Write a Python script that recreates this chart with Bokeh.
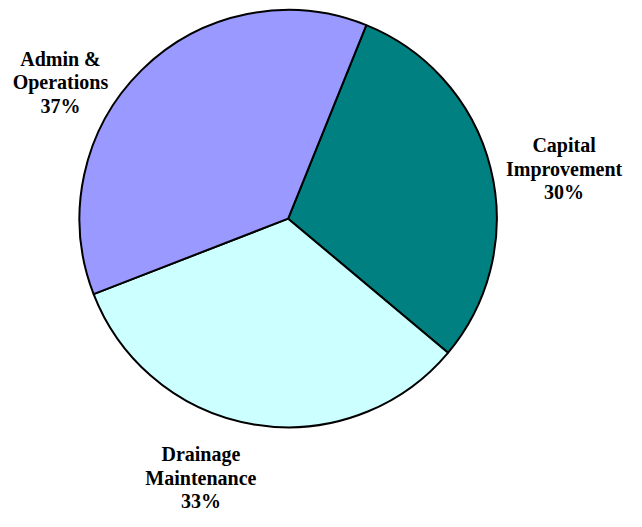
import math
from bokeh.plotting import figure
from bokeh.models import Range1d, ColumnDataSource
from bokeh.core.properties import value
from bokeh.embed import file_html
from bokeh.resources import INLINE

# Data
categories = ["Capital Improvement", "Drainage Maintenance", "Admin & Operations"]
label_lines = [["Capital", "Improvement", "30%"],
               ["Drainage", "Maintenance", "33%"],
               ["Admin &", "Operations", "37%"]]
shares = [30, 33, 37]
colors = ["#008080", "#CCFFFF", "#9999FF"]

W, H = 626, 511
# data space mirrors the reference's 642x527 frame
p = figure(width=W, height=H, output_backend="svg", toolbar_location=None,
           x_range=Range1d(0, 642), y_range=Range1d(0, 527), min_border=0)
p.axis.visible = False
p.grid.visible = False
p.outline_line_color = None
p.background_fill_color = "white"
p.border_fill_color = "white"

cx, cy, r = 295, 302, 214
start_cw = 22.0  # degrees clockwise from 12 o'clock where first slice starts
total = sum(shares)
starts, ends = [], []
acc = start_cw
for s in shares:
    a0 = acc
    a1 = acc + 360.0 * s / total
    starts.append(math.radians(90 - a0))
    ends.append(math.radians(90 - a1))
    acc = a1

src = ColumnDataSource(dict(x=[cx] * 3, y=[cy] * 3, start=starts, end=ends,
                            color=colors, name=categories))
p.wedge(x="x", y="y", radius=r, start_angle="start", end_angle="end",
        direction="clock", fill_color="color", line_color="black",
        line_width=2, source=src)

# label anchor (center x, first baseline y) and line pitch, in reference units
anchors = [(578, 378), (205.5, 59), (61.5, 467)]
pitch = [24.5, 24, 24.5]
tx, ty, tt = [], [], []
for (ax, ay), lines, pt in zip(anchors, label_lines, pitch):
    for i, line in enumerate(lines):
        tx.append(ax)
        ty.append(ay - i * pt)
        tt.append(line)
p.text(x=tx, y=ty, text=tt, text_align="center", text_baseline="alphabetic",
       text_font=value("Liberation Serif"), text_font_style="bold",
       text_font_size="20px", text_color="black")

open("out.html", "w").write(file_html(p, INLINE))
